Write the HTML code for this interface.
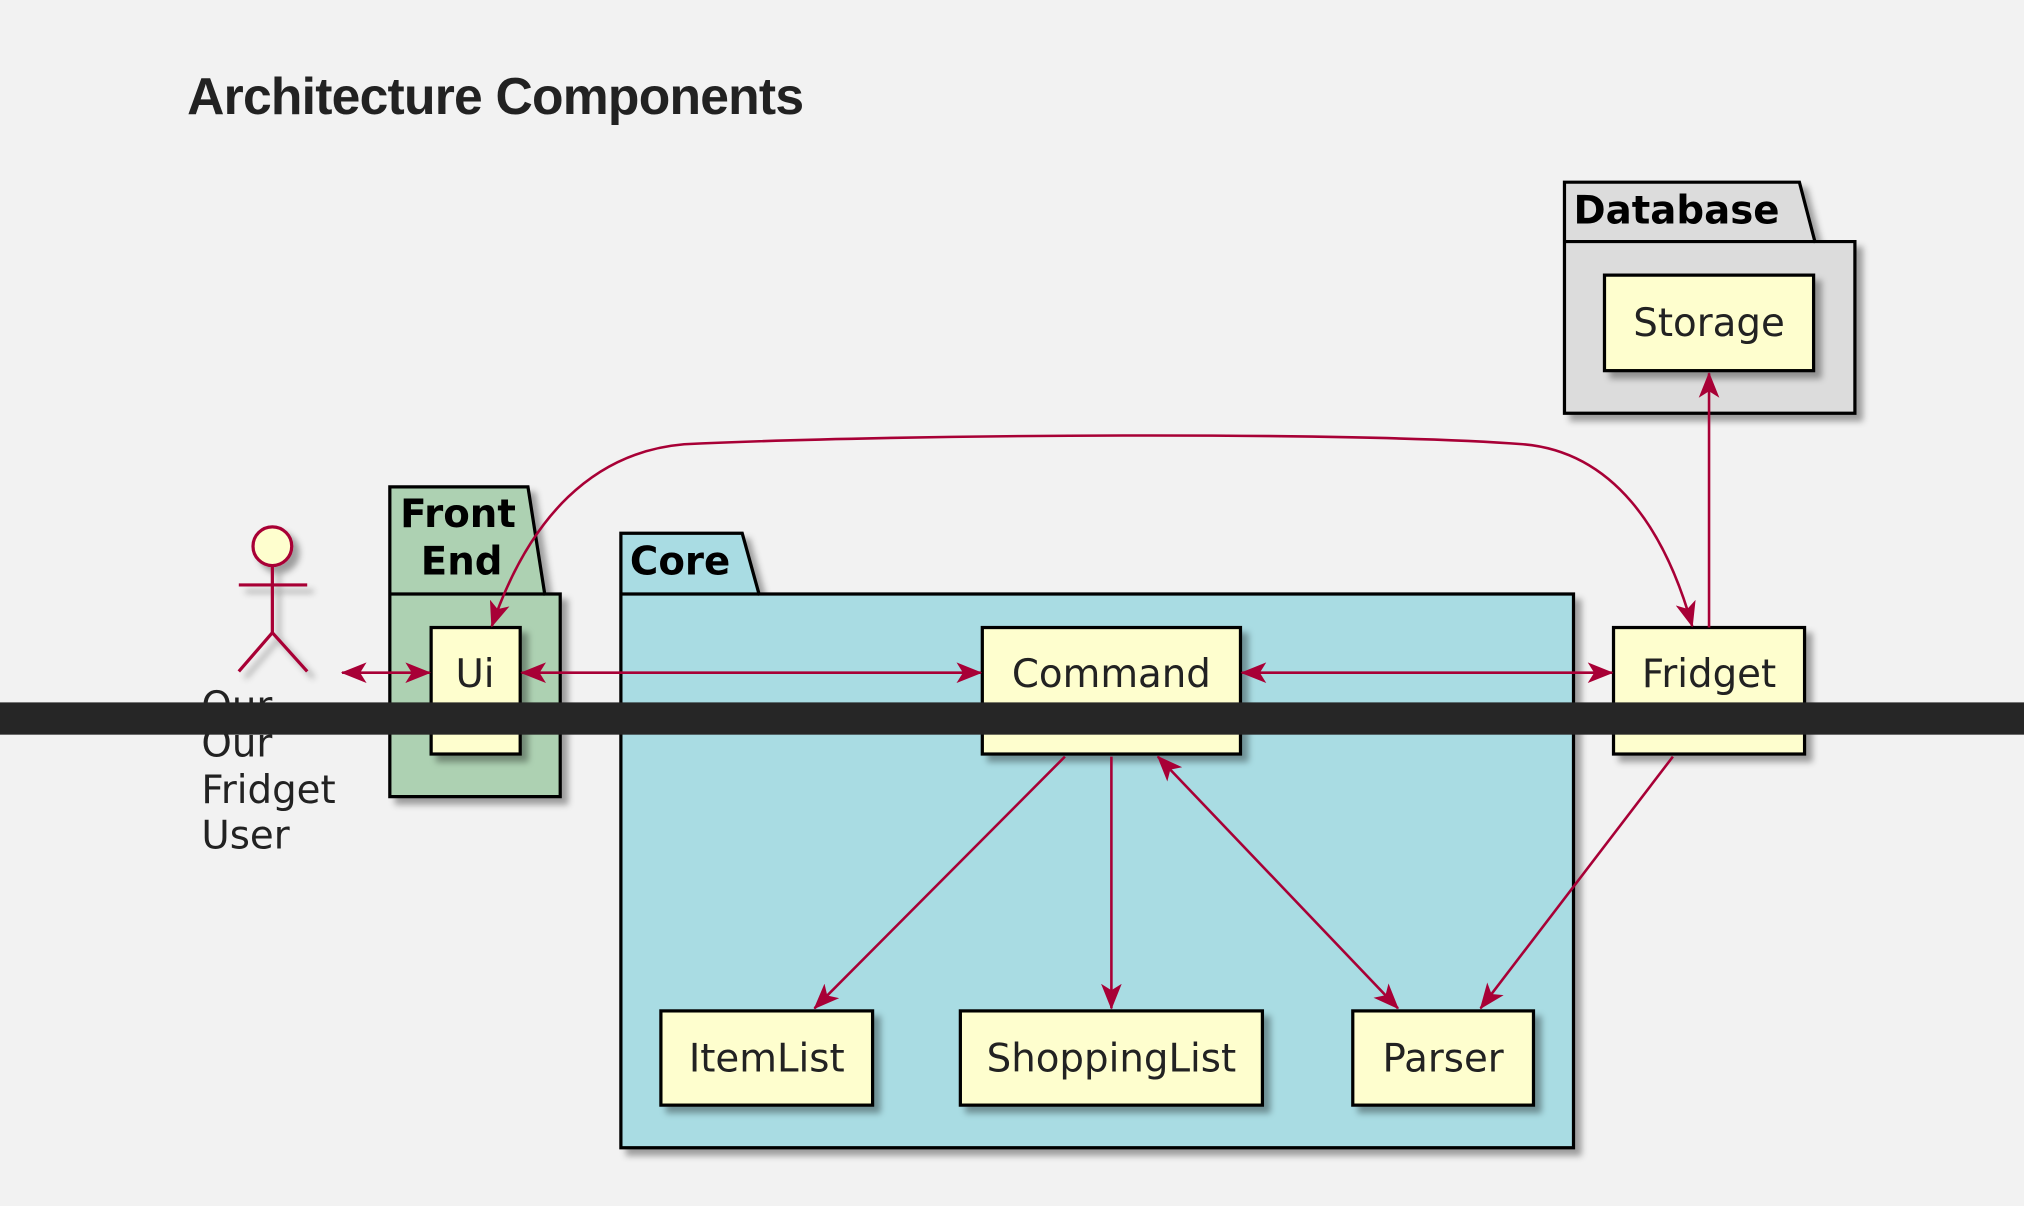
<!DOCTYPE html>
<html><head><meta charset="utf-8"><style>
html,body{margin:0;padding:0;background:#f2f2f2;}
svg{display:block;}
</style></head><body>
<svg width="2024" height="1206" viewBox="0 0 1568 934" xmlns="http://www.w3.org/2000/svg">
<defs>
<filter id="sh" x="-10%" y="-10%" width="130%" height="130%">
<feGaussianBlur in="SourceAlpha" stdDeviation="2.5"/>
<feOffset dx="5" dy="5" result="b"/>
<feFlood flood-color="#000" flood-opacity="0.35"/>
<feComposite in2="b" operator="in"/>
<feMerge><feMergeNode/><feMergeNode in="SourceGraphic"/></feMerge>
</filter>
<marker id="ah" viewBox="0 0 20 16" refX="19" refY="8" markerWidth="20" markerHeight="16" markerUnits="userSpaceOnUse" orient="auto-start-reverse">
<path d="M0,0 L20,8 L0,16 L5,8 Z" fill="#a80036"/>
</marker>
</defs>
<rect width="1568" height="934" fill="#f2f2f2"/>
<text x="145" y="88" font-family="Liberation Sans, sans-serif" font-weight="bold" font-size="40" letter-spacing="-0.6" fill="#222">Architecture Components</text>

<g stroke="#000" stroke-width="2.5" font-family="DejaVu Sans, sans-serif">
<g filter="url(#sh)">
<path d="M1212,141 L1394,141 L1406,187 L1437,187 L1437,320 L1212,320 Z" fill="#dcdcdc"/>
<line x1="1212" y1="187" x2="1406" y2="187"/>
</g>
<g filter="url(#sh)">
<path d="M302,377 L409,377 L422,460 L434,460 L434,617 L302,617 Z" fill="#add1b2"/>
<line x1="302" y1="460" x2="422" y2="460"/>
</g>
<g filter="url(#sh)">
<path d="M481,413 L575,413 L588,460 L1219,460 L1219,889 L481,889 Z" fill="#a9dce3"/>
<line x1="481" y1="460" x2="588" y2="460"/>
</g>
<g fill="#fefece" filter="url(#sh)">
<rect x="1243" y="213" width="162" height="74"/>
<rect x="334" y="486" width="69" height="98"/>
<rect x="761" y="486" width="200" height="98"/>
<rect x="1250" y="486" width="148" height="98"/>
<rect x="512" y="783" width="164" height="73"/>
<rect x="744" y="783" width="234" height="73"/>
<rect x="1048" y="783" width="140" height="73"/>
</g>
</g>
<g font-family="DejaVu Sans, sans-serif" font-weight="bold" font-size="30" fill="#000">
<text x="1219" y="173">Database</text>
<text x="310" y="408">Front</text>
<text x="326" y="445">End</text>
<text x="488" y="445">Core</text>
</g>
<g font-family="DejaVu Sans, sans-serif" font-size="30" fill="#222" text-anchor="middle">
<text x="1324" y="260">Storage</text>
<text x="368" y="532">Ui</text>
<text x="861" y="532">Command</text>
<text x="1324" y="532">Fridget</text>
<text x="594" y="830">ItemList</text>
<text x="861" y="830">ShoppingList</text>
<text x="1118" y="830">Parser</text>
</g>
<g stroke="#a80036" stroke-width="2.5" fill="none" filter="url(#sh)">
<circle cx="211" cy="423" r="15" fill="#fefece"/>
<line x1="211" y1="438" x2="211" y2="490"/>
<line x1="185" y1="453" x2="238" y2="453"/>
<path d="M185,520 L211,490 L238,520"/>
</g>
<g font-family="DejaVu Sans, sans-serif" font-size="30" fill="#222">
<text x="156" y="557">Our</text>
<text x="156" y="586">Our</text>
<text x="156" y="622">Fridget</text>
<text x="156" y="657">User</text>
</g>
<g stroke="#a80036" stroke-width="2" fill="none">
<line x1="265" y1="521" x2="333" y2="521" marker-start="url(#ah)" marker-end="url(#ah)"/>
<line x1="404" y1="521" x2="760" y2="521" marker-start="url(#ah)" marker-end="url(#ah)"/>
<line x1="962" y1="521" x2="1249" y2="521" marker-start="url(#ah)" marker-end="url(#ah)"/>
<line x1="1324" y1="486" x2="1324" y2="289" marker-end="url(#ah)"/>
<path d="M381,485 C410,400 460,350 530,344 C700,336 1050,334 1180,344 C1250,350 1290,410 1311,485" marker-start="url(#ah)" marker-end="url(#ah)"/>
<line x1="825" y1="586" x2="631" y2="781" marker-end="url(#ah)"/>
<line x1="861" y1="586" x2="861" y2="781" marker-end="url(#ah)"/>
<line x1="897" y1="586" x2="1083" y2="781" marker-start="url(#ah)" marker-end="url(#ah)"/>
<line x1="1296" y1="586" x2="1147" y2="781" marker-end="url(#ah)"/>
</g>
<rect x="0" y="544" width="1568" height="25" fill="#262626"/>
</svg>
</body></html>
